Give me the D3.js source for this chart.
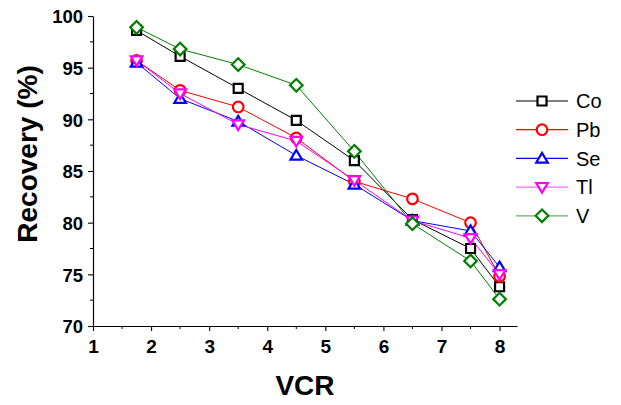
<!DOCTYPE html>
<html>
<head>
<meta charset="utf-8">
<script src="https://cdn.jsdelivr.net/npm/d3@7"></script>
<style>
  body { margin: 0; background: #fff; }
  svg { display: block; font-family: Arial, "Liberation Sans", sans-serif; }
</style>
</head>
<body>
<svg id="chart" width="621" height="405"></svg>
<script>
// VCR values at which recovery was measured
const vcr = [1.75, 2.5, 3.5, 4.5, 5.5, 6.5, 7.5, 8];

// Recovery (%) per element
const co = [98.6, 96.1, 93.0, 89.9, 86.0, 80.3, 77.5, 73.8];
const pb = [95.7, 92.8, 91.2, 88.2, 84.0, 82.3, 80.0, 74.8];
const se = [95.5, 92.0, 89.8, 86.5, 83.7, 80.2, 79.2, 75.7];
const tl = [95.7, 92.5, 89.5, 87.9, 84.1, 80.2, 78.5, 75.0];
const v  = [98.9, 96.8, 95.3, 93.3, 86.9, 79.9, 76.3, 72.6];

const xTicks = [1, 2, 3, 4, 5, 6, 7, 8];
const yTicks = [70, 75, 80, 85, 90, 95, 100];

const series = [
  { name: "Co", values: co, color: "#000000", symbol: "square" },
  { name: "Pb", values: pb, color: "#ff0000", symbol: "circle" },
  { name: "Se", values: se, color: "#0000ff", symbol: "up" },
  { name: "Tl", values: tl, color: "#ff00ff", symbol: "down" },
  { name: "V",  values: v,  color: "#008000", symbol: "diamond" }
];

const svg = d3.select("#chart");
const plotLeft = 93, plotRight = 517, plotTop = 16, plotBottom = 326;

const x = d3.scaleLinear().domain([1, 8.3]).range([plotLeft, plotRight]);
const y = d3.scaleLinear().domain([70, 100]).range([plotBottom, plotTop]);

// Marker outlines, centered at origin
function markerPath(sym) {
  const r = 5.5;
  switch (sym) {
    case "square": return "M-4.5,-4.5H4.5V4.5H-4.5Z";
    case "up": return `M0,${-r}L${r * 1.05},${r * 0.75}L${-r * 1.05},${r * 0.75}Z`;
    case "down": return `M0,${r}L${r * 1.05},${-r * 0.75}L${-r * 1.05},${-r * 0.75}Z`;
    case "diamond": return "M0,-6.3L6.3,0L0,6.3L-6.3,0Z";
  }
  return "";
}

function drawMarker(g, sym, color) {
  if (sym === "circle") {
    g.append("circle").attr("r", 5.3)
      .attr("fill", "#fff").attr("stroke", color).attr("stroke-width", 2.2);
  } else {
    g.append("path").attr("d", markerPath(sym))
      .attr("fill", "#fff").attr("stroke", color).attr("stroke-width", 2.2)
      .attr("stroke-linejoin", "miter");
  }
}

// Axes
const xAxis = d3.axisBottom(x).tickValues(xTicks).tickFormat(d3.format("d")).tickSize(5).tickSizeOuter(0);
const yAxis = d3.axisLeft(y).tickValues(yTicks).tickFormat(d3.format("d")).tickSize(5).tickSizeOuter(0);

const gx = svg.append("g").attr("transform", `translate(0,${plotBottom})`).call(xAxis);
const gy = svg.append("g").attr("transform", `translate(${plotLeft},0)`).call(yAxis);

// Minor ticks
const xMinor = d3.range(1.5, 8.3, 1);
const yMinor = d3.range(72.5, 100, 5);
gx.selectAll(".minor").data(xMinor).enter().append("line")
  .attr("x1", d => x(d)).attr("x2", d => x(d)).attr("y1", 0).attr("y2", 3)
  .attr("stroke", "#000");
gy.selectAll(".minor").data(yMinor).enter().append("line")
  .attr("y1", d => y(d)).attr("y2", d => y(d)).attr("x1", 0).attr("x2", -3)
  .attr("stroke", "#000");

[gx, gy].forEach(g => {
  g.attr("font-family", null).attr("font-size", null);
  g.select(".domain").attr("stroke", "#000").attr("stroke-width", 1.2);
  g.selectAll(".tick line").attr("stroke", "#000").attr("stroke-width", 1.1);
  g.selectAll(".tick text").attr("fill", "#000")
    .attr("font-family", "Arial, 'Liberation Sans', sans-serif")
    .attr("font-weight", "bold")
    .attr("font-size", 19);
});
gx.selectAll(".tick text").attr("dy", 0).attr("y", 27);
gy.selectAll(".tick text").attr("x", -10).attr("dy", "0.36em").attr("font-size", 18.5);

// Axis titles
svg.append("text").attr("x", 305).attr("y", 395)
  .attr("text-anchor", "middle").attr("font-size", 28).attr("font-weight", "bold")
  .text("VCR");
svg.append("text")
  .attr("transform", `translate(37,154) rotate(-90)`)
  .attr("text-anchor", "middle").attr("font-size", 28).attr("font-weight", "bold")
  .text("Recovery (%)");

// Lines
const line = d3.line().x((d, i) => x(vcr[i])).y(d => y(d));
series.forEach(s => {
  svg.append("path").datum(s.values)
    .attr("d", line).attr("fill", "none")
    .attr("stroke", s.color).attr("stroke-width", 1);
});

// Markers
series.forEach(s => {
  s.values.forEach((val, i) => {
    const g = svg.append("g").attr("transform", `translate(${x(vcr[i])},${y(val)})`);
    drawMarker(g, s.symbol, s.color);
  });
});

// Legend
const legend = svg.append("g").attr("transform", "translate(516,101)");
series.forEach((s, i) => {
  const g = legend.append("g").attr("transform", `translate(0,${i * 28.7})`);
  g.append("line").attr("x1", 0).attr("x2", 52).attr("y1", 0).attr("y2", 0)
    .attr("stroke", s.color).attr("stroke-width", 1.2).attr("opacity", i >= 3 ? 0.6 : 1);
  const m = g.append("g").attr("transform", "translate(26,0)");
  drawMarker(m, s.symbol, s.color);
  g.append("text").attr("x", 60).attr("y", 0).attr("dy", "0.36em")
    .attr("font-size", 20).text(s.name);
});
</script>
</body>
</html>
